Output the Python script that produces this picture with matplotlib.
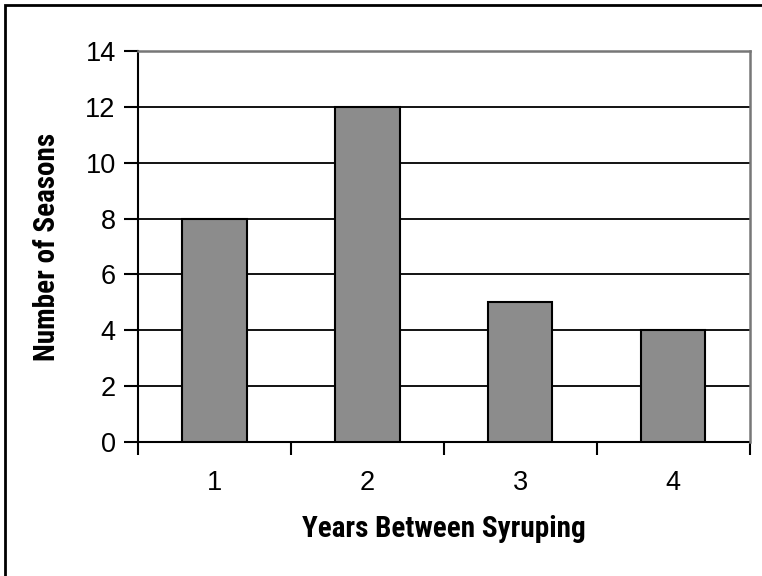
import matplotlib.pyplot as plt
from matplotlib.patches import Rectangle

years = ["1", "2", "3", "4"]
seasons = [8, 12, 5, 4]
y_ticks = [0, 2, 4, 6, 8, 10, 12, 14]

plt.rcParams["font.family"] = ["Liberation Sans", "DejaVu Sans"]
label_font = ["Roboto Condensed", "Liberation Sans", "DejaVu Sans"]

fig = plt.figure(figsize=(7.62, 5.76), dpi=100)
ax = fig.add_axes([0.181, 0.2326, 0.803, 0.679])

pos = list(range(len(years)))
ax.bar(pos, seasons, width=0.42, color="#8c8c8c", edgecolor="black",
       linewidth=1.5, zorder=3)

ax.set_xlim(-0.5, len(years) - 0.5)
ax.set_ylim(0, 14)
ax.set_yticks(y_ticks)
ax.yaxis.grid(True, color="black", linewidth=1.3, zorder=0)
ax.set_axisbelow(True)

# tick marks between categories, labels in the middle
ax.set_xticks([p - 0.5 for p in pos] + [len(years) - 0.5])
ax.set_xticklabels([])
ax.set_xticks(pos, minor=True)
ax.set_xticklabels(years, minor=True)
ax.tick_params(axis="x", which="major", length=9, width=1.5,
               direction="out")
ax.tick_params(axis="x", which="minor", length=0, pad=20, labelsize=19.5)
ax.tick_params(axis="y", length=10, width=1.5, pad=6, labelsize=19.5)

# plot area frame is grey on top and right
for s in ["top", "right"]:
    ax.spines[s].set_color("#777777")
    ax.spines[s].set_linewidth(1.8)
    ax.spines[s].set_zorder(4)
ax.spines["left"].set_linewidth(1.5)
ax.spines["bottom"].set_linewidth(1.5)

ax.set_xlabel("Years Between Syruping", fontsize=21, fontweight="bold",
              family=label_font, va="center")
ax.set_ylabel("Number of Seasons", fontsize=21, fontweight="bold",
              family=label_font, va="center")
ax.xaxis.set_label_coords(0.5, -0.222)
ax.yaxis.set_label_coords(-0.149, 0.5)

# outer border, right and bottom edges fall outside the picture
fig.patches.append(Rectangle((0.007, -0.05), 1.1, 1.041,
                             transform=fig.transFigure, fill=False,
                             edgecolor="black", linewidth=2))

fig.savefig("out.png", dpi=100)
